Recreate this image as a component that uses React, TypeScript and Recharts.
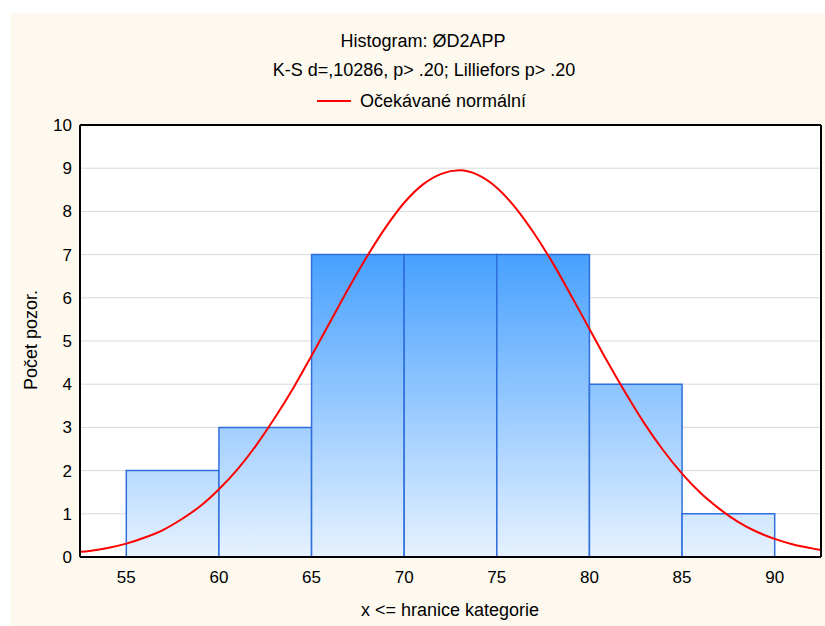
import {
  ComposedChart,
  Line,
  XAxis,
  YAxis,
  CartesianGrid,
  ReferenceArea,
} from 'recharts';

// histogram bins (upper bound = "x <= hranice kategorie")
const binFrom = [55, 60, 65, 70, 75, 80, 85];
const binTo = [60, 65, 70, 75, 80, 85, 90];
const binCounts = [2, 3, 7, 7, 7, 4, 1];

// expected normal curve
const curveX = [
  52.5, 53, 54, 55, 56, 57, 58, 59, 60, 61, 62, 63, 64, 65, 66, 67, 68, 69, 70, 71, 72,
  73, 74, 75, 76, 77, 78, 79, 80, 81, 82, 83, 84, 85, 86, 87, 88, 89, 90, 91, 92, 92.5,
];
const curveY = [
  0.12, 0.14, 0.21, 0.31, 0.45, 0.63, 0.88, 1.18, 1.57, 2.03, 2.58, 3.21, 3.9, 4.66, 5.44,
  6.22, 6.96, 7.63, 8.2, 8.62, 8.87, 8.95, 8.84, 8.55, 8.09, 7.5, 6.82, 6.06, 5.28, 4.5,
  3.76, 3.07, 2.46, 1.93, 1.48, 1.12, 0.82, 0.59, 0.42, 0.29, 0.2, 0.16,
];

const xTicks = [55, 60, 65, 70, 75, 80, 85, 90];
const yTicks = [0, 1, 2, 3, 4, 5, 6, 7, 8, 9, 10];

const curveData = curveX.map((x, i) => ({ x, y: curveY[i] }));

const FONT = '"Liberation Sans", Arial, sans-serif';
const xDomain: [number, number] = [52.5, 92.5];
const yDomain: [number, number] = [0, 10];
const tickFont = { fill: '#000', fontSize: 17, fontFamily: FONT };

export default function App() {
  return (
    <div
      style={{
        position: 'absolute',
        left: 0,
        top: 0,
        width: 825,
        height: 626,
        background: '#fff',
        overflow: 'hidden',
      }}
    >
      <div
        style={{
          position: 'absolute',
          left: 10,
          top: 13,
          width: 815,
          height: 613,
          background: '#fdf9ef',
        }}
      />
      <div style={{ position: 'absolute', left: 0, top: 0 }}>
        <ComposedChart
          width={825}
          height={626}
          data={curveData}
          margin={{ top: 125, right: 4, left: 0, bottom: 39 }}
        >
          <defs>
            <linearGradient id="barFill" gradientUnits="userSpaceOnUse" x1="0" y1="254" x2="0" y2="557">
              <stop offset="0%" stopColor="#47a0ff" />
              <stop offset="100%" stopColor="#e6f2ff" />
            </linearGradient>
          </defs>
          <CartesianGrid fill="#ffffff" stroke="#d9d9d9" vertical={false} />
          {binCounts.map((c, i) => (
            <ReferenceArea
              key={i}
              x1={binFrom[i]}
              x2={binTo[i]}
              y1={0}
              y2={c}
              fill="url(#barFill)"
              fillOpacity={1}
              stroke="#2f6fdc"
              strokeWidth={1.5}
            />
          ))}
          <Line
            type="monotone"
            dataKey="y"
            stroke="#ff0000"
            strokeWidth={2}
            dot={false}
            activeDot={false}
            isAnimationActive={false}
          />
          <XAxis
            type="number"
            dataKey="x"
            domain={xDomain}
            allowDataOverflow
            ticks={xTicks}
            height={30}
            tick={tickFont}
            tickLine={false}
            tickSize={0}
            tickMargin={14}
            axisLine={{ stroke: '#000', strokeWidth: 2 }}
          />
          <XAxis
            xAxisId="bm"
            type="number"
            dataKey="x"
            orientation="bottom"
            mirror
            domain={xDomain}
            allowDataOverflow
            ticks={xTicks}
            tick={false}
            tickSize={4}
            tickLine={{ stroke: '#000', strokeWidth: 2 }}
            axisLine={false}
          />
          <XAxis
            xAxisId="top"
            type="number"
            dataKey="x"
            orientation="top"
            mirror
            domain={xDomain}
            allowDataOverflow
            ticks={xTicks}
            tick={false}
            tickSize={4}
            tickLine={{ stroke: '#000', strokeWidth: 2 }}
            axisLine={{ stroke: '#000', strokeWidth: 2 }}
          />
          <YAxis
            domain={yDomain}
            allowDataOverflow
            ticks={yTicks}
            width={80}
            tick={tickFont}
            tickLine={false}
            tickSize={0}
            tickMargin={8}
            axisLine={{ stroke: '#000', strokeWidth: 2 }}
          />
          <YAxis
            yAxisId="lm"
            orientation="left"
            mirror
            domain={yDomain}
            allowDataOverflow
            ticks={yTicks}
            tick={false}
            tickSize={4}
            tickLine={{ stroke: '#000', strokeWidth: 2 }}
            axisLine={false}
          />
          <YAxis
            yAxisId="rm"
            orientation="right"
            mirror
            domain={yDomain}
            allowDataOverflow
            ticks={yTicks}
            tick={false}
            tickSize={4}
            tickLine={{ stroke: '#000', strokeWidth: 2 }}
            axisLine={{ stroke: '#000', strokeWidth: 2 }}
          />
        </ComposedChart>
      </div>
      <svg
        width={825}
        height={626}
        style={{ position: 'absolute', left: 0, top: 0, pointerEvents: 'none' }}
        fontFamily={FONT}
        fontSize={18}
        fill="#000"
      >
        <text x={423} y={47} textAnchor="middle">Histogram: ØD2APP</text>
        <text x={424} y={76} textAnchor="middle">K-S d=,10286, p&gt; .20; Lilliefors p&gt; .20</text>
        <line x1={317} y1={101} x2={351} y2={101} stroke="#ff0000" strokeWidth={2} />
        <text x={360} y={107}>Očekávané normální</text>
        <text x={450} y={616} textAnchor="middle">x &lt;= hranice kategorie</text>
        <text transform="translate(37,340) rotate(-90)" textAnchor="middle">Počet pozor.</text>
      </svg>
    </div>
  );
}
